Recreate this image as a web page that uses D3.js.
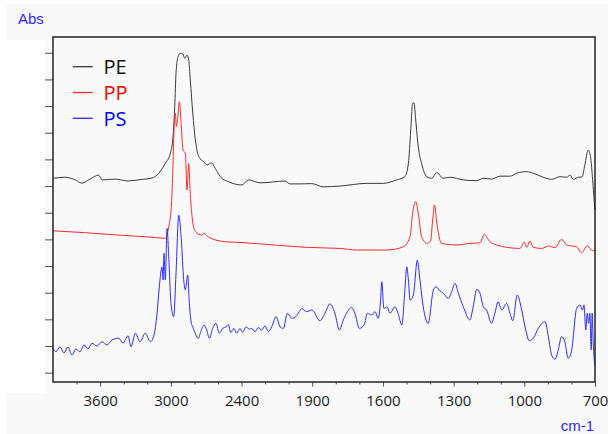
<!DOCTYPE html>
<html>
<head>
<meta charset="utf-8">
<script src="https://cdn.jsdelivr.net/npm/d3@7"></script>
<style>
    body { margin: 0; background: #fff; }
    svg { display: block; }
</style>
</head>
<body>
<div id="main"></div>
<script>
// spectra: [wavenumber cm-1, absorbance]
const pe = [
    [4000, 0.729], [3900, 0.733], [3815, 0.724], [3755, 0.711], [3686, 0.726], [3612, 0.741],
    [3584, 0.723], [3474, 0.726], [3363, 0.719], [3262, 0.724], [3160, 0.730], [3103, 0.748],
    [3047, 0.785], [3004, 0.824], [2984, 0.873], [2967, 0.998], [2956, 1.124], [2939, 1.185],
    [2920, 1.198], [2899, 1.195], [2882, 1.179], [2863, 1.191], [2848, 1.173], [2835, 1.098],
    [2814, 0.974], [2792, 0.873], [2763, 0.810], [2721, 0.791], [2693, 0.779], [2656, 0.787],
    [2623, 0.766], [2580, 0.735], [2509, 0.716], [2396, 0.704], [2342, 0.723], [2243, 0.712],
    [2141, 0.715], [2031, 0.719], [1994, 0.708], [1952, 0.708], [1902, 0.709], [1853, 0.697],
    [1782, 0.700], [1669, 0.710], [1599, 0.710], [1542, 0.723], [1507, 0.735], [1492, 0.785],
    [1482, 0.910], [1474, 1.010], [1468, 1.012], [1461, 0.948], [1450, 0.847], [1436, 0.785],
    [1414, 0.735], [1393, 0.729], [1372, 0.751], [1344, 0.729], [1316, 0.733], [1259, 0.723],
    [1202, 0.720], [1174, 0.729], [1139, 0.726], [1103, 0.737], [1061, 0.737], [1032, 0.748],
    [990, 0.754], [962, 0.748], [920, 0.733], [884, 0.725], [849, 0.735], [820, 0.733],
    [806, 0.741], [792, 0.725], [771, 0.733], [755, 0.734], [743, 0.779], [729, 0.835],
    [719, 0.810], [710, 0.723], [703, 0.641], [700, 0.610]
];
const pp = [
    [4000, 0.532], [3726, 0.525], [3442, 0.516], [3160, 0.508], [3047, 0.504], [3018, 0.547],
    [2996, 0.622], [2984, 0.748], [2976, 0.873], [2962, 0.973], [2953, 0.922], [2942, 0.954],
    [2928, 1.016], [2911, 0.922], [2897, 0.835], [2877, 0.823], [2863, 0.685], [2848, 0.785],
    [2837, 0.685], [2820, 0.585], [2792, 0.529], [2735, 0.516], [2721, 0.523], [2679, 0.508],
    [2538, 0.491], [2396, 0.488], [2130, 0.479], [1924, 0.470], [1782, 0.466], [1711, 0.460],
    [1584, 0.460], [1514, 0.472], [1485, 0.510], [1474, 0.598], [1461, 0.641], [1450, 0.598],
    [1436, 0.510], [1414, 0.485], [1398, 0.494], [1389, 0.572], [1381, 0.629], [1372, 0.565],
    [1351, 0.485], [1287, 0.479], [1231, 0.485], [1188, 0.487], [1170, 0.519], [1146, 0.491],
    [1117, 0.479], [1075, 0.470], [1019, 0.466], [1000, 0.489], [990, 0.470], [976, 0.494],
    [962, 0.470], [926, 0.466], [898, 0.475], [870, 0.469], [842, 0.500], [820, 0.479],
    [778, 0.472], [757, 0.450], [733, 0.476], [710, 0.457], [700, 0.460]
];
const ps = [
    [4000, 0.091], [3975, 0.079], [3941, 0.097], [3907, 0.074], [3873, 0.096], [3839, 0.066],
    [3805, 0.089], [3771, 0.078], [3737, 0.104], [3703, 0.089], [3669, 0.110], [3627, 0.100],
    [3584, 0.116], [3542, 0.104], [3499, 0.123], [3442, 0.129], [3406, 0.111], [3363, 0.138],
    [3338, 0.097], [3301, 0.148], [3262, 0.116], [3217, 0.148], [3174, 0.116], [3143, 0.141],
    [3117, 0.223], [3098, 0.322], [3075, 0.397], [3066, 0.348], [3058, 0.448], [3047, 0.348],
    [3032, 0.541], [3018, 0.435], [2999, 0.260], [2976, 0.210], [2956, 0.373], [2933, 0.591],
    [2911, 0.498], [2891, 0.348], [2877, 0.310], [2857, 0.366], [2843, 0.260], [2826, 0.185],
    [2814, 0.172], [2767, 0.129], [2746, 0.154], [2718, 0.179], [2696, 0.160], [2673, 0.129],
    [2645, 0.166], [2617, 0.185], [2589, 0.148], [2560, 0.166], [2532, 0.172], [2512, 0.181],
    [2492, 0.151], [2464, 0.166], [2441, 0.148], [2413, 0.166], [2390, 0.151], [2362, 0.172],
    [2334, 0.163], [2314, 0.166], [2286, 0.154], [2258, 0.169], [2229, 0.160], [2201, 0.176],
    [2173, 0.154], [2144, 0.172], [2107, 0.210], [2073, 0.172], [2045, 0.166], [2011, 0.223],
    [1987, 0.204], [1970, 0.210], [1955, 0.229], [1945, 0.241], [1924, 0.229],
    [1902, 0.235], [1867, 0.195], [1846, 0.223], [1825, 0.258], [1804, 0.223], [1785, 0.160],
    [1768, 0.198], [1733, 0.244], [1719, 0.223], [1700, 0.166], [1680, 0.179], [1666, 0.223],
    [1648, 0.216], [1634, 0.229], [1620, 0.204], [1610, 0.272], [1605, 0.341], [1596, 0.241],
    [1583, 0.247], [1570, 0.223], [1549, 0.247], [1536, 0.223], [1520, 0.179], [1506, 0.322],
    [1499, 0.397], [1492, 0.348], [1485, 0.272], [1471, 0.291], [1454, 0.422], [1443, 0.348],
    [1429, 0.247], [1408, 0.185], [1386, 0.310], [1375, 0.322], [1358, 0.307], [1344, 0.298],
    [1323, 0.279], [1308, 0.304], [1294, 0.335], [1280, 0.298], [1259, 0.247], [1231, 0.198],
    [1217, 0.247], [1202, 0.313], [1188, 0.298], [1174, 0.247], [1160, 0.235], [1139, 0.185],
    [1125, 0.223], [1111, 0.266], [1096, 0.235], [1075, 0.260], [1061, 0.223], [1049, 0.195],
    [1030, 0.291], [1011, 0.235], [997, 0.172], [979, 0.120], [962, 0.129], [941, 0.166],
    [912, 0.191], [898, 0.135], [884, 0.066], [870, 0.050], [856, 0.085], [842, 0.135],
    [828, 0.116], [814, 0.054], [799, 0.085], [778, 0.241], [764, 0.254], [753, 0.235],
    [747, 0.254], [739, 0.160], [733, 0.223], [727, 0.185], [722, 0.223], [716, 0.085],
    [712, 0.223], [708, 0.123], [703, 0.048], [700, 0.025]
];

const seriesNames = ["PE", "PP", "PS"];
const seriesColors = ["#3a3a3a", "#ff2a2a", "#2a2aff"];
const legendTextColors = ["#111111", "#ff0000", "#0000ff"];
const xMajorTicks = [3600, 3000, 2400, 1900, 1600, 1300, 1000, 700];
const xMinorTicks = [3800, 3400, 3200, 2800, 2600, 2200, 2000, 1800, 1700, 1500, 1400, 1200, 1100, 900, 800];
const yTicks = [0, 0.1, 0.2, 0.3, 0.4, 0.5, 0.6, 0.7, 0.8, 0.9, 1.0, 1.1, 1.2];

const W = 608, H = 434;
const plotLeft = 53, plotRight = 595, plotTop = 37, plotBottom = 382;

const svg = d3.select("#main").append("svg").attr("width", W).attr("height", H);

// backgrounds
svg.append("rect").attr("x", 6).attr("y", 4).attr("width", W - 6).attr("height", H - 4).attr("fill", "#f9f9f9");
svg.append("rect").attr("x", 0).attr("y", 40).attr("width", 45).attr("height", 353).attr("fill", "#fff");

// scale is compressed above 2000 cm-1
const x = d3.scaleLinear().domain([4000, 2000, 700]).range([plotLeft, 288.7, plotRight]);
const y = d3.scaleLinear().domain([-0.035, 1.259]).range([plotBottom, plotTop]);

const fontTicks = "'Open Sans', sans-serif";

svg.append("g")
    .attr("transform", `translate(0,${plotBottom})`)
    .call(d3.axisBottom(x).tickValues(xMinorTicks).tickSize(2.5).tickSizeOuter(0).tickFormat(""))
    .call(g => g.select(".domain").remove())
    .selectAll("line").attr("stroke", "#555");

let xAxis = svg.append("g")
    .attr("transform", `translate(0,${plotBottom})`)
    .call(d3.axisBottom(x).tickValues(xMajorTicks).tickSize(4.6).tickSizeOuter(0).tickPadding(9).tickFormat(d3.format("d")));
xAxis.select(".domain").remove();
xAxis.selectAll("line").attr("stroke", "#555");
xAxis.selectAll("text")
    .style("font-family", fontTicks)
    .style("font-size", "15px")
    .attr("fill", "#1a1a1a");

let yAxis = svg.append("g")
    .attr("transform", `translate(${plotLeft},0)`)
    .call(d3.axisLeft(y).tickValues(yTicks).tickSize(8).tickSizeOuter(0).tickFormat(""));
yAxis.select(".domain").remove();
yAxis.selectAll("line").attr("stroke", "#555");

// spectra
const line = d3.line()
    .x(d => x(d[0]))
    .y(d => y(d[1]))
    .curve(d3.curveMonotoneX);

svg.selectAll(".spectrum")
    .data([pe, pp, ps])
    .enter()
    .append("path")
    .classed("spectrum", true)
    .attr("d", line)
    .attr("fill", "none")
    .attr("stroke", (d, i) => seriesColors[i])
    .attr("stroke-width", 1);

// frame
svg.append("rect")
    .attr("x", plotLeft).attr("y", plotTop)
    .attr("width", plotRight - plotLeft).attr("height", plotBottom - plotTop)
    .attr("fill", "none")
    .attr("stroke", "#222")
    .attr("stroke-width", 1.5);

// legend
let legend = svg.selectAll(".legend")
    .data(seriesNames)
    .enter()
    .append("g")
    .classed("legend", true)
    .attr("transform", (d, i) => `translate(0,${66.7 + i * 25.8})`);
legend.append("line")
    .attr("x1", 72.7).attr("x2", 92.7)
    .attr("stroke", (d, i) => seriesColors[i])
    .attr("stroke-width", 1.3);
legend.append("text")
    .attr("x", 103.5)
    .attr("dy", "0.36em")
    .style("font-family", fontTicks)
    .style("font-size", "20px")
    .attr("fill", (d, i) => legendTextColors[i])
    .text(d => d);

// axis titles
svg.append("text")
    .attr("x", 18).attr("y", 24)
    .style("font-family", "'Liberation Sans', Arial, sans-serif")
    .style("font-size", "15px")
    .attr("fill", "#2a2aff")
    .text("Abs");
svg.append("text")
    .attr("x", 594).attr("y", 431)
    .attr("text-anchor", "end")
    .style("font-family", "'Liberation Sans', Arial, sans-serif")
    .style("font-size", "15px")
    .attr("fill", "#2a2aff")
    .text("cm-1");
</script>
</body>
</html>
